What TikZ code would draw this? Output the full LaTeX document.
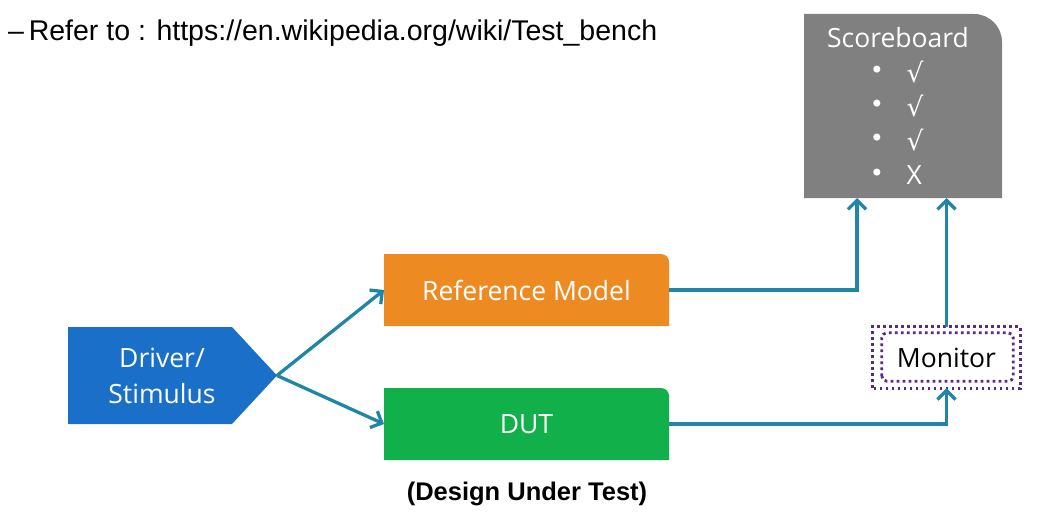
\documentclass[tikz,border=0pt]{standalone}
\usepackage{fontspec}
\setmainfont{Liberation Sans}
\newfontfamily\boxfont{Open Sans}
\newfontfamily\symfont{DejaVu Sans}
\usetikzlibrary{arrows.meta}
\definecolor{tealc}{RGB}{32,134,166}
\definecolor{orangec}{RGB}{238,138,34}
\definecolor{greenc}{RGB}{18,176,74}
\definecolor{bluec}{RGB}{26,112,200}
\definecolor{grayc}{RGB}{128,128,128}
\definecolor{purplec}{RGB}{88,40,140}
\tikzset{
  area/.style={inner sep=0pt, outer sep=0pt, minimum width=#1},
  conn/.style={draw=tealc, line width=3.3pt, -{Straight Barb[length=9pt,width=18pt,line width=3.3pt]}},
  boxtext/.style={font=\boxfont\fontsize{26.5}{32}\selectfont, text=white},
  dots/.style={purplec, line width=2.8pt, dash pattern=on 2.8pt off 3.2pt},
}
\begin{document}
\begin{tikzpicture}[x=1pt,y=-1pt]
\useasboundingbox (0,0) rectangle (1051,519);
\fill[white] (0,0) rectangle (1051,519);

% title
\node[anchor=base west, inner sep=0pt, font=\fontsize{28.5}{34}\selectfont] (title) at (8,41) {–\,Refer to : https://en.wikipedia.org/wiki/Test\_bench};

% scoreboard
\node[area=198pt, minimum height=184pt] (sb) at (903,106) {};
\fill[grayc] (sb.south west) -- (sb.north west) [rounded corners=28pt] -- (sb.north east) [sharp corners] -- (sb.south east) -- cycle;
\node[boxtext] (sbt) at (898,38) {Scoreboard};
\foreach \yy/\mk [count=\i] in {72/\symfont √,106/\symfont √,140/\symfont √,175/X}{
  \node[boxtext, font=\symfont\fontsize{24}{28}\selectfont] (bul\i) at (877,\yy) {•};
  \node[boxtext, anchor=west] (mk\i) at (903,\yy) {\mk};
}

% reference model
\node[area=285pt, minimum height=72pt] (ref) at (526.5,290) {};
\fill[orangec] (ref.south west) -- (ref.north west) [rounded corners=8pt] -- (ref.north east) [sharp corners] -- (ref.south east) -- cycle;
\node[boxtext] (reft) at (ref.center) {Reference Model};

% DUT
\node[area=285pt, minimum height=72pt] (dut) at (526.5,424) {};
\fill[greenc] (dut.south west) -- (dut.north west) [rounded corners=8pt] -- (dut.north east) [sharp corners] -- (dut.south east) -- cycle;
\node[boxtext] (dutt) at (dut.center) {DUT};
\node[font=\bfseries\fontsize{25.5}{30}\selectfont] (dutlbl) at (527,494) {(Design Under Test)};

% driver
\fill[bluec] (68,327) -- (232,327) -- (277,375.5) -- (232,424) -- (68,424) -- cycle;
\coordinate (tip) at (277,375.5);
\node[boxtext, align=center, font=\boxfont\fontsize{26.5}{36}\selectfont] (drv) at (162,375.5) {Driver/\\Stimulus};

% monitor
\node[inner sep=0pt, minimum width=147pt, minimum height=61pt] (mon) at (946.5,357.5) {};
\draw[dots] (mon.south west) rectangle (mon.north east);
\draw[dots, rounded corners=5pt] ([xshift=9pt,yshift=7pt]mon.south west) rectangle ([xshift=-7pt,yshift=-6pt]mon.north east);
\node[font=\boxfont\fontsize{26.5}{32}\selectfont] (mont) at (mon.center) {Monitor};

% connectors
\draw[conn] (tip) -- (ref.west);
\draw[conn] (tip) -- (dut.west);
\draw[conn] (ref.east) -| ([xshift=-46pt]sb.south);
\draw[conn] (dut.east) -| (mon.south);
\draw[conn] (mon.north) -- (mon.north |- sb.south);
\end{tikzpicture}
\end{document}
